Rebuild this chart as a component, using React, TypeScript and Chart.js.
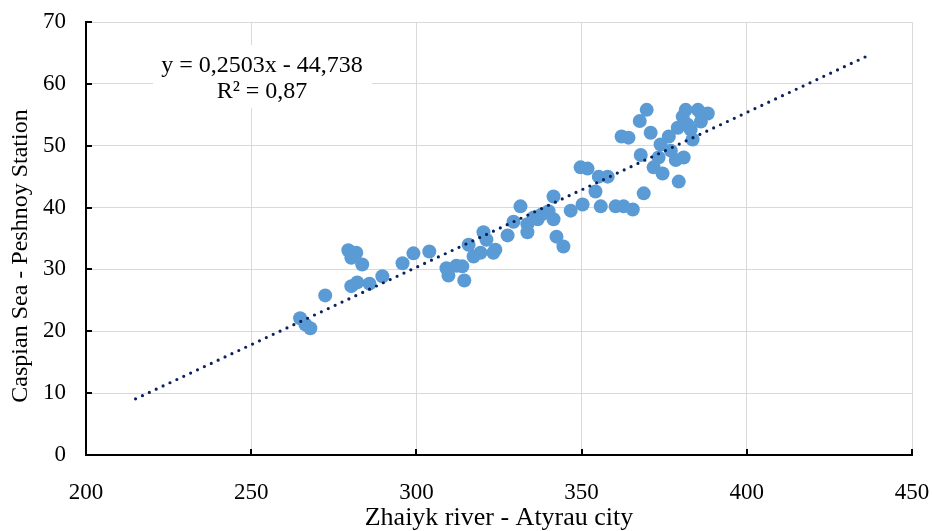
import React, { useEffect, useRef } from "react";
import { Chart, registerables } from "chart.js";

Chart.register(...registerables);

// Observed values: Zhaiyk river - Atyrau city (x) vs Caspian Sea - Peshnoy Station (y)
const xValues = [
  264.8, 267.9, 266.4, 272.4, 279.4, 281.8, 280.3, 283.6, 280.3, 282.1,
  285.8, 289.7, 295.8, 299.1, 303.9, 309.1, 309.7, 312.1, 313.9, 314.5,
  315.8, 317.3, 320.3, 319.4, 323.3, 323.9, 321.2, 327.6, 329.4, 331.5,
  333.6, 333.6, 336.7, 341.5, 341.5, 342.4, 344.5, 346.7, 349.7, 351.8,
  350.3, 354.2, 355.2, 357.9, 355.8, 360.3, 362.7, 365.5, 368.8, 367.9,
  369.7, 367.6, 370.9, 362.1, 364.2, 373.9, 371.8, 374.5, 373.3, 376.4,
  379.1, 380.9, 378.5, 379.4, 381.5, 385.2, 388.2, 382.1, 383.6, 386.1,
  380.6, 386.1, 377.0, 337.9, 340.0, 335.5, 383.0,
];
const yValues = [
  22.1, 20.5, 21.1, 25.8, 33.1, 32.7, 31.9, 30.8, 27.3, 27.9,
  27.7, 28.9, 31.0, 32.6, 32.9, 30.2, 29.0, 30.6, 30.5, 28.2,
  34.0, 32.1, 36.0, 32.7, 32.7, 33.2, 34.8, 35.5, 37.7, 40.2,
  36.0, 37.3, 38.1, 41.8, 38.1, 35.3, 33.7, 39.5, 46.5, 46.3,
  40.5, 42.6, 45.0, 45.0, 40.2, 40.2, 40.2, 39.7, 42.3, 48.5,
  55.8, 54.0, 52.1, 51.5, 51.3, 50.2, 46.5, 45.5, 48.1, 51.5,
  52.9, 48.1, 47.7, 44.2, 55.8, 55.8, 55.2, 53.4, 51.0, 55.3,
  54.7, 53.9, 49.2, 38.9, 39.4, 38.4, 52.6,
];

// Linear trendline (as stated on the chart) and its extent
const trendSlope = 0.2503;
const trendIntercept = -44.738;
const trendX = [215, 436];

const xTicks = [200, 250, 300, 350, 400, 450];
const yTicks = [0, 10, 20, 30, 40, 50, 60, 70];

const equationLines = ["y = 0,2503x - 44,738", "R² = 0,87"];
const xTitle = "Zhaiyk river - Atyrau city";
const yTitle = "Caspian Sea - Peshnoy Station";

const FONT = "'Liberation Serif', 'Times New Roman', serif";

export default function App() {
  const canvasRef = useRef<HTMLCanvasElement | null>(null);

  useEffect(() => {
    const canvas = canvasRef.current;
    if (!canvas) return;

    const points = xValues.map((x, i) => ({ x, y: yValues[i] }));
    const trend = trendX.map((x) => ({ x, y: trendSlope * x + trendIntercept }));

    const decorPlugin = {
      id: "decor",
      beforeDatasetsDraw(chart: any) {
        const { ctx } = chart;
        ctx.save();
        // equation box
        ctx.fillStyle = "#ffffff";
        ctx.fillRect(153, 45, 219, 63);
        ctx.fillStyle = "#000000";
        ctx.font = `24px ${FONT}`;
        ctx.textAlign = "center";
        ctx.textBaseline = "middle";
        ctx.fillText(equationLines[0], 262, 66);
        ctx.fillText(equationLines[1], 262, 92);
        ctx.restore();
      },
      afterDraw(chart: any) {
        const { ctx, chartArea, scales } = chart;
        ctx.save();
        // inside tick marks
        ctx.strokeStyle = "#000000";
        ctx.lineWidth = 2;
        ctx.beginPath();
        xTicks.forEach((v) => {
          const px = Math.round(scales.x.getPixelForValue(v));
          ctx.moveTo(px, chartArea.bottom);
          ctx.lineTo(px, chartArea.bottom - 6);
        });
        yTicks.forEach((v) => {
          const py = Math.round(scales.y.getPixelForValue(v));
          ctx.moveTo(chartArea.left, py);
          ctx.lineTo(chartArea.left + 6, py);
        });
        ctx.stroke();
        // y title
        ctx.fillStyle = "#000000";
        ctx.font = `24px ${FONT}`;
        ctx.textAlign = "center";
        ctx.textBaseline = "middle";
        ctx.translate(21, 256);
        ctx.rotate(-Math.PI / 2);
        ctx.fillText(yTitle, 0, 0);
        ctx.restore();
      },
    };

    const chart = new Chart(canvas, {
      type: "scatter",
      data: {
        datasets: [
          {
            type: "line",
            label: "Trend",
            data: trend,
            showLine: true,
            borderColor: "#0a215c",
            borderWidth: 3.2,
            borderDash: [0, 7.6],
            borderCapStyle: "round",
            pointRadius: 0,
            fill: false,
            order: 0,
          } as any,
          {
            label: "Data",
            data: points,
            backgroundColor: "#5b9bd5",
            borderColor: "#5b9bd5",
            borderWidth: 0,
            pointRadius: 7,
            order: 1,
          },
        ],
      },
      options: {
        animation: false,
        responsive: true,
        maintainAspectRatio: false,
        layout: { padding: { top: 22, right: 20, left: 0, bottom: 0 } },
        plugins: {
          legend: { display: false },
          tooltip: { enabled: false },
          title: { display: false },
        },
        scales: {
          x: {
            type: "linear",
            min: 200,
            max: 450,
            afterBuildTicks: (scale: any) => {
              scale.ticks = xTicks.map((v) => ({ value: v }));
            },
            afterFit: (scale: any) => {
              scale.height = 76;
              scale.paddingLeft = 0;
              scale.paddingRight = 0;
            },
            grid: { color: "#d9d9d9", lineWidth: 1, drawTicks: false },
            border: { display: true, color: "#000000", width: 2 },
            ticks: {
              padding: 24,
              color: "#000000",
              font: { family: FONT, size: 23 },
            },
            title: {
              display: true,
              text: xTitle,
              color: "#000000",
              font: { family: FONT, size: 26, lineHeight: 0.95 },
              padding: { top: 0, bottom: 0 },
            },
          },
          y: {
            type: "linear",
            min: 0,
            max: 70,
            afterBuildTicks: (scale: any) => {
              scale.ticks = yTicks.map((v) => ({ value: v }));
            },
            afterFit: (scale: any) => {
              scale.width = 86;
              scale.paddingTop = 0;
              scale.paddingBottom = 0;
            },
            grid: { color: "#d9d9d9", lineWidth: 1, drawTicks: false },
            border: { display: true, color: "#000000", width: 2 },
            ticks: {
              padding: 20,
              color: "#000000",
              font: { family: FONT, size: 23 },
            },
          },
        },
      },
      plugins: [decorPlugin],
    });

    return () => chart.destroy();
  }, []);

  return (
    <div style={{ position: "fixed", left: 0, top: 0, width: 932, height: 531, background: "#fff" }}>
      <canvas ref={canvasRef} />
    </div>
  );
}
